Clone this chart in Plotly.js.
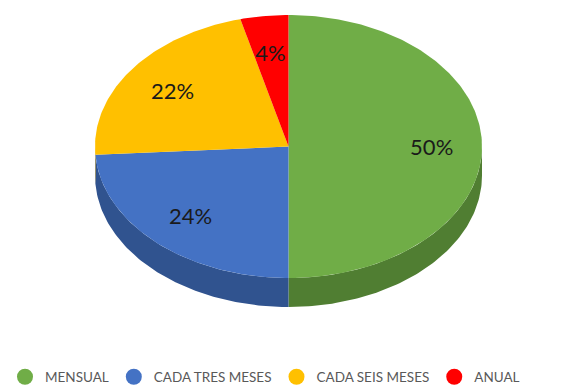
<!DOCTYPE html>
<html><head><meta charset="utf-8">
<script src="https://cdn.plot.ly/plotly-3.0.1.min.js"></script>
<style>html,body{margin:0;padding:0;background:#fff}</style>
</head><body><div id="chart" style="width:569px;height:387px"></div>
<script>
const categories = ["MENSUAL", "CADA TRES MESES", "CADA SEIS MESES", "ANUAL"];
const values = [50, 24, 22, 4];
const labels = ["50%", "24%", "22%", "4%"];
const topColors = ["#70AD47", "#4472C4", "#FFC000", "#FF0000"];
const sideColors = ["#507E32", "#30538F", "#BF9000", "#BF0000"];

// geometry of the tilted pie (pixel-like axis units)
const CX = 288.5, CY = 146.5, RX = 193.5, RY = 131.5, DEPTH = 29;
const total = values.reduce((a, b) => a + b, 0);
function pt(deg, dy) {
  const r = deg * Math.PI / 180;
  return [CX + RX * Math.sin(r), CY - RY * Math.cos(r) + (dy || 0)];
}
function arc(a1, a2, dy) {
  const out = [];
  const n = Math.max(2, Math.ceil(Math.abs(a2 - a1) / 1));
  for (let i = 0; i <= n; i++) out.push(pt(a1 + (a2 - a1) * i / n, dy));
  return out;
}

const sideTraces = [], topTraces = [], legendTraces = [];
const lx = [], ly = [];
let cum = 0;
values.forEach((v, i) => {
  const a1 = cum / total * 360, a2 = (cum + v) / total * 360;
  cum += v;
  // side (visible front half: 90..270 deg)
  const s1 = Math.max(a1, 90), s2 = Math.min(a2, 270);
  if (s2 > s1) {
    const top = arc(s1, s2, 0), bot = arc(s2, s1, DEPTH);
    const pts = top.concat(bot);
    sideTraces.push({
      type: "scatter", mode: "lines", fill: "toself",
      x: pts.map(p => p[0]), y: pts.map(p => p[1]),
      fillcolor: sideColors[i], line: {width: 0, color: sideColors[i]},
      showlegend: false, hoverinfo: "skip"
    });
  }
  const face = [[CX, CY]].concat(arc(a1, a2, 0));
  face.push([CX, CY]);
  topTraces.push({
    type: "scatter", mode: "lines", fill: "toself",
    x: face.map(p => p[0]), y: face.map(p => p[1]),
    fillcolor: topColors[i], line: {width: 0, color: topColors[i]},
    name: categories[i], legendgroup: categories[i],
    showlegend: false, hoverinfo: "name"
  });
  const mid = (a1 + a2) / 2;
  const mr = mid * Math.PI / 180;
  lx.push(CX + 0.74 * RX * Math.sin(mr));
  ly.push(CY - 0.72 * RY * Math.cos(mr) + 3);
  legendTraces.push({
    type: "scatter", mode: "markers", x: [-1000], y: [-1000],
    name: categories[i], legendgroup: categories[i],
    marker: {color: topColors[i], size: 17, symbol: "circle"},
    cliponaxis: true, showlegend: true, hoverinfo: "skip"
  });
});

const textTrace = {
  type: "scatter", mode: "text", x: lx, y: ly, text: labels,
  textposition: "middle center",
  textfont: {family: "Lato, 'Liberation Sans', sans-serif", size: 22, color: "#1a1a1a"},
  showlegend: false, hoverinfo: "skip"
};

const data = sideTraces.concat(topTraces, [textTrace], legendTraces);

const layout = {
  width: 569, height: 387,
  margin: {l: 0, r: 0, t: 0, b: 0, autoexpand: false},
  paper_bgcolor: "#ffffff", plot_bgcolor: "#ffffff",
  xaxis: {range: [0, 569], autorange: false, visible: false, fixedrange: true},
  yaxis: {range: [387, 0], autorange: false, visible: false, fixedrange: true},
  showlegend: true,
  legend: {
    orientation: "h", x: 5 / 569, xanchor: "left", y: 10 / 387, yanchor: "middle",
    font: {family: "Lato, 'Liberation Sans', sans-serif", size: 13.5, color: "#595959"},
    traceorder: "normal", bgcolor: "rgba(0,0,0,0)"
  }
};

Plotly.newPlot("chart", data, layout, {displayModeBar: false, staticPlot: true});
</script>
</body></html>
